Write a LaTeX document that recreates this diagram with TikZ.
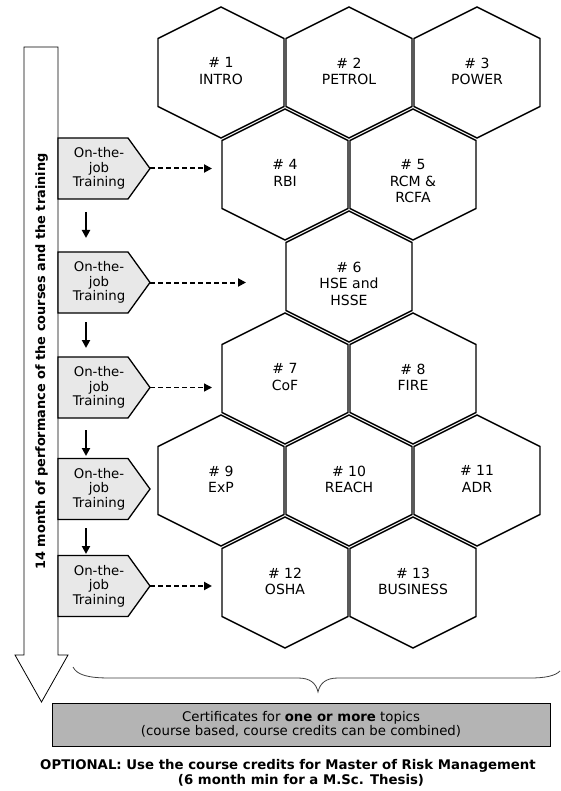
\documentclass[tikz,border=0pt]{standalone}
\usepackage{fontspec}
\setmainfont{DejaVu Sans}
\usetikzlibrary{arrows.meta}
\definecolor{boxfill}{HTML}{E8E8E8}
\definecolor{certfill}{HTML}{B4B4B4}
\tikzset{
  hexline/.style={line width=1.4pt, line join=miter},
  hextext/.style={anchor=north, inner sep=0pt, align=center, font=\fontsize{14}{16.5}\selectfont},
  trainbox/.style={line width=1.3pt, fill=boxfill, line join=miter},
  traintext/.style={inner sep=0pt, align=center, font=\fontsize{13.3}{14.5}\selectfont},
  downarrow/.style={line width=2pt, -{Triangle[length=8pt,width=8pt]}},
  dasharrow/.style={line width=2pt, dash pattern=on 5pt off 3pt, -{Triangle[length=8pt,width=8pt]}},
  thindasharrow/.style={line width=1.3pt, dash pattern=on 5pt off 3pt, -{Triangle[length=8pt,width=8pt]}},
}
\newcommand\hexcell[4]{%
  \draw[hexline] (#2,#3) ++(0,-65.5) -- ++(63,31.5) -- ++(0,68) -- ++(-63,31.5) -- ++(-63,-31.5) -- ++(0,-68) -- cycle;
  \node[hextext] (#1) at (#2,#3-15) {#4};
}
\newcommand\trainingbox[3]{% name, cy, tip-name
  \draw[trainbox] (58,#2-30.5) -- (128,#2-30.5) -- (150,#2) -- (128,#2+30.5) -- (58,#2+30.5) -- cycle;
  \node[traintext] (#1) at (99,#2) {On-the-\\job\\Training};
  \coordinate (#3) at (150,#2);
}
\begin{document}
\begin{tikzpicture}[x=1pt,y=-1pt]
\useasboundingbox (0,0) rectangle (560,791);
\fill[white] (0,0) rectangle (560,791);

% big time arrow
\draw[line width=0.8pt, fill=white] (24,47) -- (58,47) -- (58,655) -- (68,655) -- (41.5,702) -- (15,655) -- (24,655) -- cycle;
\node[rotate=90, inner sep=0pt, font=\bfseries\fontsize{12.9}{15}\selectfont] (timeline) at (41.5,361.5)
  {14 month of performance of the courses and the training};

% hexagons
\hexcell{h1}{221}{72.5}{\# 1\\INTRO}
\hexcell{h2}{349}{72.5}{\# 2\\PETROL}
\hexcell{h3}{477}{72.5}{\# 3\\POWER}
\hexcell{h4}{285}{174.5}{\# 4\\RBI}
\hexcell{h5}{413}{174.5}{\# 5\\RCM \&\\RCFA}
\hexcell{h6}{349}{276.5}{\# 6\\HSE and\\HSSE}
\hexcell{h7}{285}{378.5}{\# 7\\CoF}
\hexcell{h8}{413}{378.5}{\# 8\\FIRE}
\hexcell{h9}{221}{480.5}{\# 9\\ExP}
\hexcell{h10}{349}{480.5}{\# 10\\REACH}
\hexcell{h11}{477}{480.5}{\# 11\\ADR}
\hexcell{h12}{285}{582.5}{\# 12\\OSHA}
\hexcell{h13}{413}{582.5}{\# 13\\BUSINESS}

% training boxes
\trainingbox{t1}{168.5}{tip1}
\trainingbox{t2}{282.5}{tip2}
\trainingbox{t3}{387.5}{tip3}
\trainingbox{t4}{489}{tip4}
\trainingbox{t5}{586}{tip5}

% dashed arrows ends
\coordinate (e1) at (212,168.5);
\coordinate (e2) at (246,282.5);
\coordinate (e3) at (212,387.5);
\coordinate (e5) at (212,586);
\draw[dasharrow] (tip1) -- (e1);
\draw[dasharrow] (tip2) -- (e2);
\draw[thindasharrow] (tip3) -- (e3);
\draw[dasharrow] (tip5) -- (e5);

% down arrows
\coordinate (d1a) at (86,212); \coordinate (d1b) at (86,238);
\coordinate (d2a) at (86,322); \coordinate (d2b) at (86,348);
\coordinate (d3a) at (86,430); \coordinate (d3b) at (86,456);
\coordinate (d4a) at (86,528); \coordinate (d4b) at (86,554);
\draw[downarrow] (d1a) -- (d1b);
\draw[downarrow] (d2a) -- (d2b);
\draw[downarrow] (d3a) -- (d3b);
\draw[downarrow] (d4a) -- (d4b);

% brace
\draw[line width=0.8pt, draw=black!75] (73,667) .. controls (77,675) and (88,678) .. (110,678) -- (298,678)
  .. controls (310,678) and (316,683) .. (318,692) .. controls (320,683) and (326,678) .. (338,678)
  -- (530,678) .. controls (545,678) and (555,676) .. (560,671);

% certificates box
\node[draw=black, line width=0.8pt, fill=certfill, minimum width=498pt, minimum height=43pt, inner sep=0pt] (cert) at (301,724.5) {};
\node[align=center, inner sep=0pt, font=\fontsize{13.3}{14}\selectfont] (certtext) at (301,724.5)
  {Certificates for \textbf{one or more} topics\\(course based, course credits can be combined)};

% optional text
\node[inner sep=0pt, font=\bfseries\fontsize{13.3}{14}\selectfont] (opt1) at (288,766) {OPTIONAL: Use the course credits for Master of Risk Management};
\node[inner sep=0pt, font=\bfseries\fontsize{13.3}{14}\selectfont] (opt2) at (301,780) {(6 month min for a M.Sc. Thesis)};
\end{tikzpicture}
\end{document}
